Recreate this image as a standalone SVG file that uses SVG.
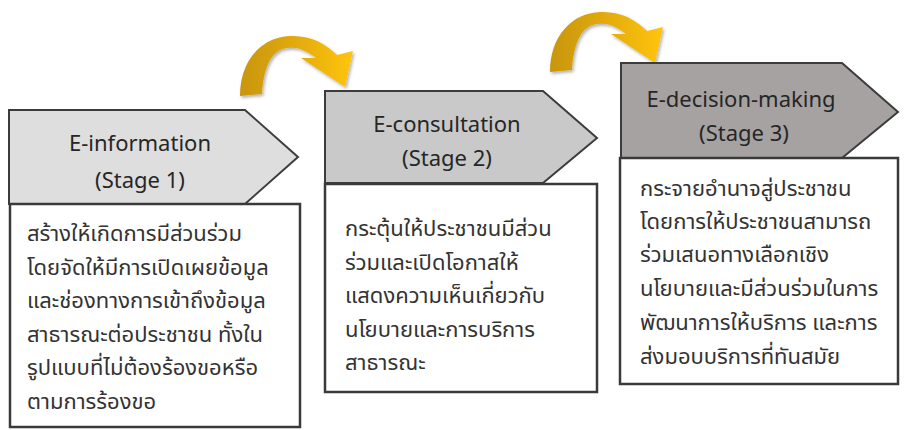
<svg xmlns="http://www.w3.org/2000/svg" width="904" height="430" viewBox="0 0 904 430">
<defs>
<linearGradient id="gold" x1="0" y1="0" x2="1" y2="0">
<stop offset="0" stop-color="#c8960e"/>
<stop offset="0.45" stop-color="#e0a810"/>
<stop offset="1" stop-color="#ffc50f"/>
</linearGradient>
<filter id="sh" x="-20%" y="-20%" width="140%" height="140%">
<feDropShadow dx="1.5" dy="2" stdDeviation="1.5" flood-color="#000" flood-opacity="0.3"/>
</filter>
<path id="curl" d="M 240,96 C 240,60 262,37 290,36 C 311,35 326,44 337,55 L 353,51 L 345,87 L 301,58 L 316,58 C 306,50 297,47 288,48 C 274,49 264,62 262,94 Z"/>
</defs>
<style>
.pent{stroke:#3c3c3c;stroke-width:2}
.box{fill:#fff;stroke:#3a3a3a;stroke-width:2.5}
.ttl{font-family:"Noto Sans","Open Sans",sans-serif;font-size:22px;fill:#262626;text-anchor:middle}
.th{font-family:"Noto Sans","Noto Sans Thai",sans-serif;font-size:22px;fill:#333}
</style>
<rect width="904" height="430" fill="#fff"/>
<g id="connectors">
<use href="#curl" fill="url(#gold)" filter="url(#sh)"/>
<use href="#curl" fill="url(#gold)" filter="url(#sh)" transform="translate(310,-24)"/>
</g>
<g id="stage1">
<polygon class="pent" points="9,110 245,110 298,157 245,204 9,204" fill="#dedede"/>
<text class="ttl" x="140" y="151">E-information</text>
<text class="ttl" x="140" y="188">(Stage 1)</text>
<rect class="box" x="10" y="204" width="290" height="223"/>
<text class="th" x="27" y="241">สร้างให้เกิดการมีส่วนร่วม</text>
<text class="th" x="27" y="275">โดยจัดให้มีการเปิดเผยข้อมูล</text>
<text class="th" x="27" y="308">และช่องทางการเข้าถึงข้อมูล</text>
<text class="th" x="27" y="342">สาธารณะต่อประชาชน ทั้งใน</text>
<text class="th" x="27" y="375">รูปแบบที่ไม่ต้องร้องขอหรือ</text>
<text class="th" x="27" y="409">ตามการร้องขอ</text>
</g>
<g id="stage2">
<polygon class="pent" points="325,91 543,91 597,138 543,183 325,183" fill="#c9c9c9"/>
<text class="ttl" x="447" y="132">E-consultation</text>
<text class="ttl" x="447" y="166">(Stage 2)</text>
<rect class="box" x="325" y="184" width="272" height="208"/>
<text class="th" x="345" y="236">กระตุ้นให้ประชาชนมีส่วน</text>
<text class="th" x="345" y="270">ร่วมและเปิดโอกาสให้</text>
<text class="th" x="345" y="303">แสดงความเห็นเกี่ยวกับ</text>
<text class="th" x="345" y="337">นโยบายและการบริการ</text>
<text class="th" x="345" y="370">สาธารณะ</text>
</g>
<g id="stage3">
<polygon class="pent" points="621,63 842,63 898,112 842,158 621,158" fill="#a6a2a2"/>
<text class="ttl" x="741" y="107">E-decision-making</text>
<text class="ttl" x="744" y="141">(Stage 3)</text>
<rect class="box" x="620" y="158" width="278" height="226"/>
<text class="th" x="640" y="196">กระจายอำนาจสู่ประชาชน</text>
<text class="th" x="640" y="229">โดยการให้ประชาชนสามารถ</text>
<text class="th" x="640" y="262">ร่วมเสนอทางเลือกเชิง</text>
<text class="th" x="640" y="296">นโยบายและมีส่วนร่วมในการ</text>
<text class="th" x="640" y="330">พัฒนาการให้บริการ และการ</text>
<text class="th" x="640" y="364">ส่งมอบบริการที่ทันสมัย</text>
</g>
</svg>
